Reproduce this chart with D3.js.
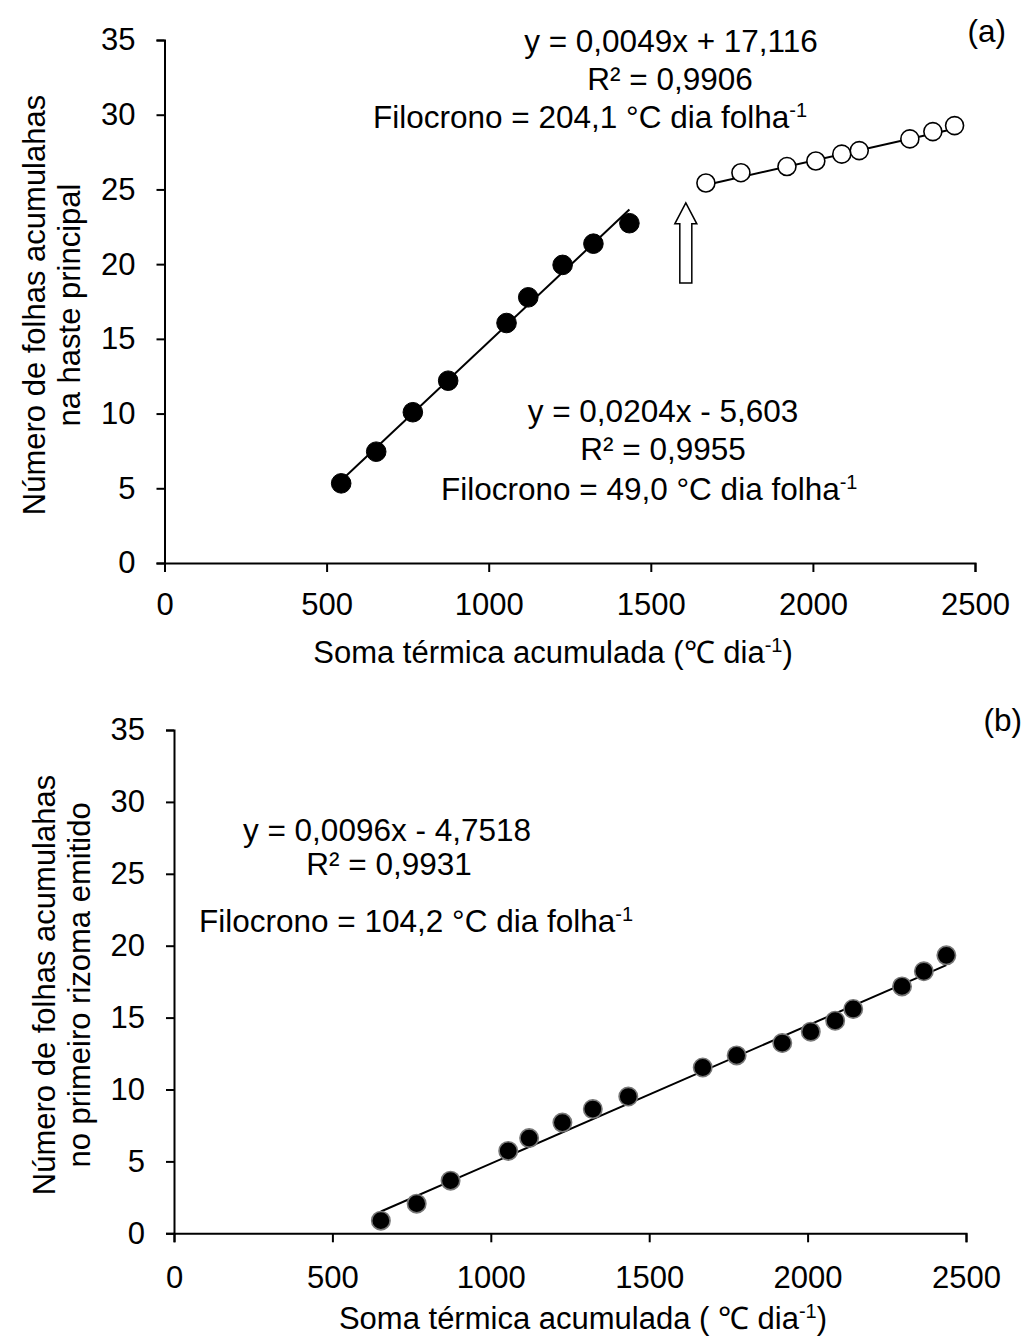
<!DOCTYPE html>
<html>
<head>
<meta charset="utf-8">
<script src="https://cdn.jsdelivr.net/npm/d3@7"></script>
<style>
  body { margin: 0; background: #fff; }
  svg text { font-family: "Liberation Sans", Arial, sans-serif; fill: #000; }
</style>
</head>
<body>
<div id="chart"></div>
<script>
// ---- data ----
// (a) main stem, before and after the break
var aX1 = [545, 653, 766, 875, 1055, 1122, 1228, 1323, 1434];
var aY1 = [5.33, 7.45, 10.09, 12.2, 16.06, 17.78, 19.95, 21.37, 22.74];
var aX2 = [1670, 1778, 1920, 2009, 2089, 2143, 2299, 2370, 2437];
var aY2 = [25.43, 26.12, 26.53, 26.9, 27.36, 27.6, 28.38, 28.87, 29.27];
// (b) first rhizome
var bX = [653, 766, 873, 1055, 1121, 1226, 1322, 1434, 1669, 1776, 1920, 2010, 2087, 2144, 2298, 2367, 2438];
var bY = [0.88, 2.06, 3.66, 5.73, 6.62, 7.70, 8.64, 9.51, 11.53, 12.37, 13.23, 14.02, 14.78, 15.6, 17.17, 18.22, 19.33];
// fitted lines: slope, intercept
var fitA1 = [0.0204, -5.603];
var fitA2 = [0.0049, 17.116];
var fitB = [0.0096, -4.7518];

var xTicks = [0, 500, 1000, 1500, 2000, 2500];
var yTicks = [0, 5, 10, 15, 20, 25, 30, 35];

var W = 1029, H = 1342;
var svg = d3.select("#chart").append("svg")
    .attr("width", W)
    .attr("height", H);

var xa = d3.scaleLinear().domain([0, 2500]).range([164.5, 975]);
var ya = d3.scaleLinear().domain([0, 35]).range([563, 40]);
var xb = d3.scaleLinear().domain([0, 2500]).range([174, 966]);
var yb = d3.scaleLinear().domain([0, 35]).range([1233.3, 730]);

var FS = 31;   // axis text
var FA = 31.5; // annotations

function drawAxes(x, y, pad) {
  var gx = svg.append("g")
      .attr("transform", "translate(0," + y(0) + ")")
      .call(d3.axisBottom(x).tickValues(xTicks).tickSize(9).tickPadding(pad).tickFormat(d3.format("d")));
  var gy = svg.append("g")
      .attr("transform", "translate(" + x(0) + ",0)")
      .call(d3.axisLeft(y).tickValues(yTicks).tickSize(8).tickPadding(21));
  [gx, gy].forEach(function(g) {
    g.select(".domain").attr("stroke-width", 2);
    g.selectAll(".tick line").attr("stroke-width", 2);
    g.selectAll("text").style("font-size", FS + "px").style("font-family", "Liberation Sans, Arial, sans-serif");
  });
}

function fitLine(x, y, fit, xs) {
  var x0 = d3.min(xs), x1 = d3.max(xs);
  svg.append("line")
      .attr("x1", x(x0)).attr("y1", y(fit[0] * x0 + fit[1]))
      .attr("x2", x(x1)).attr("y2", y(fit[0] * x1 + fit[1]))
      .attr("stroke", "#000")
      .attr("stroke-width", 2);
}

function dots(x, y, xs, ys, fill, stroke, r, sw) {
  svg.append("g").selectAll("circle")
    .data(xs.map(function(d, i) { return [d, ys[i]]; }))
    .enter().append("circle")
      .attr("cx", function(d) { return x(d[0]); })
      .attr("cy", function(d) { return y(d[1]); })
      .attr("r", r)
      .attr("fill", fill)
      .attr("stroke", stroke)
      .attr("stroke-width", sw);
}

// text with optional superscript "-1"
function label(px, py, main, sup, anchor, rot, size) {
  var fs = size || FA;
  var t = svg.append("text")
      .attr("text-anchor", anchor || "middle")
      .style("font-size", fs + "px");
  if (rot) t.attr("transform", "translate(" + px + "," + py + ") rotate(-90)");
  else t.attr("x", px).attr("y", py);
  t.append("tspan").text(main);
  if (sup) {
    t.append("tspan").attr("dy", -11).style("font-size", "20px").text(sup);
  }
  return t;
}

// ---------- panel (a) ----------
drawAxes(xa, ya, 21);
fitLine(xa, ya, fitA1, aX1);
fitLine(xa, ya, fitA2, aX2);
dots(xa, ya, aX1, aY1, "#000", "#000", 9.8, 1);
dots(xa, ya, aX2, aY2, "#fff", "#000", 9, 1.6);

// hollow arrow marking the break
var ax = xa(1608), tipY = ya(24.1), baseY = ya(22.7), botY = ya(18.74);
svg.append("path")
    .attr("d", "M" + ax + "," + tipY +
               "L" + (ax + 11) + "," + baseY +
               "L" + (ax + 6) + "," + baseY +
               "L" + (ax + 6) + "," + botY +
               "L" + (ax - 6) + "," + botY +
               "L" + (ax - 6) + "," + baseY +
               "L" + (ax - 11) + "," + baseY + "Z")
    .attr("fill", "#fff")
    .attr("stroke", "#000")
    .attr("stroke-width", 1.5);

label(671, 52, "y = 0,0049x + 17,116");
label(670, 90, "R² = 0,9906");
label(373, 128, "Filocrono = 204,1 °C dia folha", "-1", "start");
label(1006, 42, "(a)", null, "end");

label(663, 422, "y = 0,0204x - 5,603");
label(663, 460, "R² = 0,9955");
label(441, 500, "Filocrono = 49,0 °C dia folha", "-1", "start");

label(553, 663, "Soma térmica acumulada (℃ dia", "-1", "middle", false, FS).append("tspan").attr("dy", 11).text(")");
label(45, 305, "Número de folhas acumulahas", null, "middle", true, FS);
label(80, 305, "na haste principal", null, "middle", true, FS);

// ---------- panel (b) ----------
drawAxes(xb, yb, 24);
fitLine(xb, yb, fitB, bX);
dots(xb, yb, bX, bY, "#000", "#777", 9.2, 1.6);

label(1022, 731, "(b)", null, "end");
label(387, 841, "y = 0,0096x - 4,7518");
label(389, 875, "R² = 0,9931");
label(199, 932, "Filocrono = 104,2 °C dia folha", "-1", "start");

label(583, 1329, "Soma térmica acumulada ( ℃ dia", "-1", "middle", false, FS).append("tspan").attr("dy", 11).text(")");
label(55, 985, "Número de folhas acumulahas", null, "middle", true, FS);
label(90, 985, "no primeiro rizoma emitido", null, "middle", true, FS);
</script>
</body>
</html>
